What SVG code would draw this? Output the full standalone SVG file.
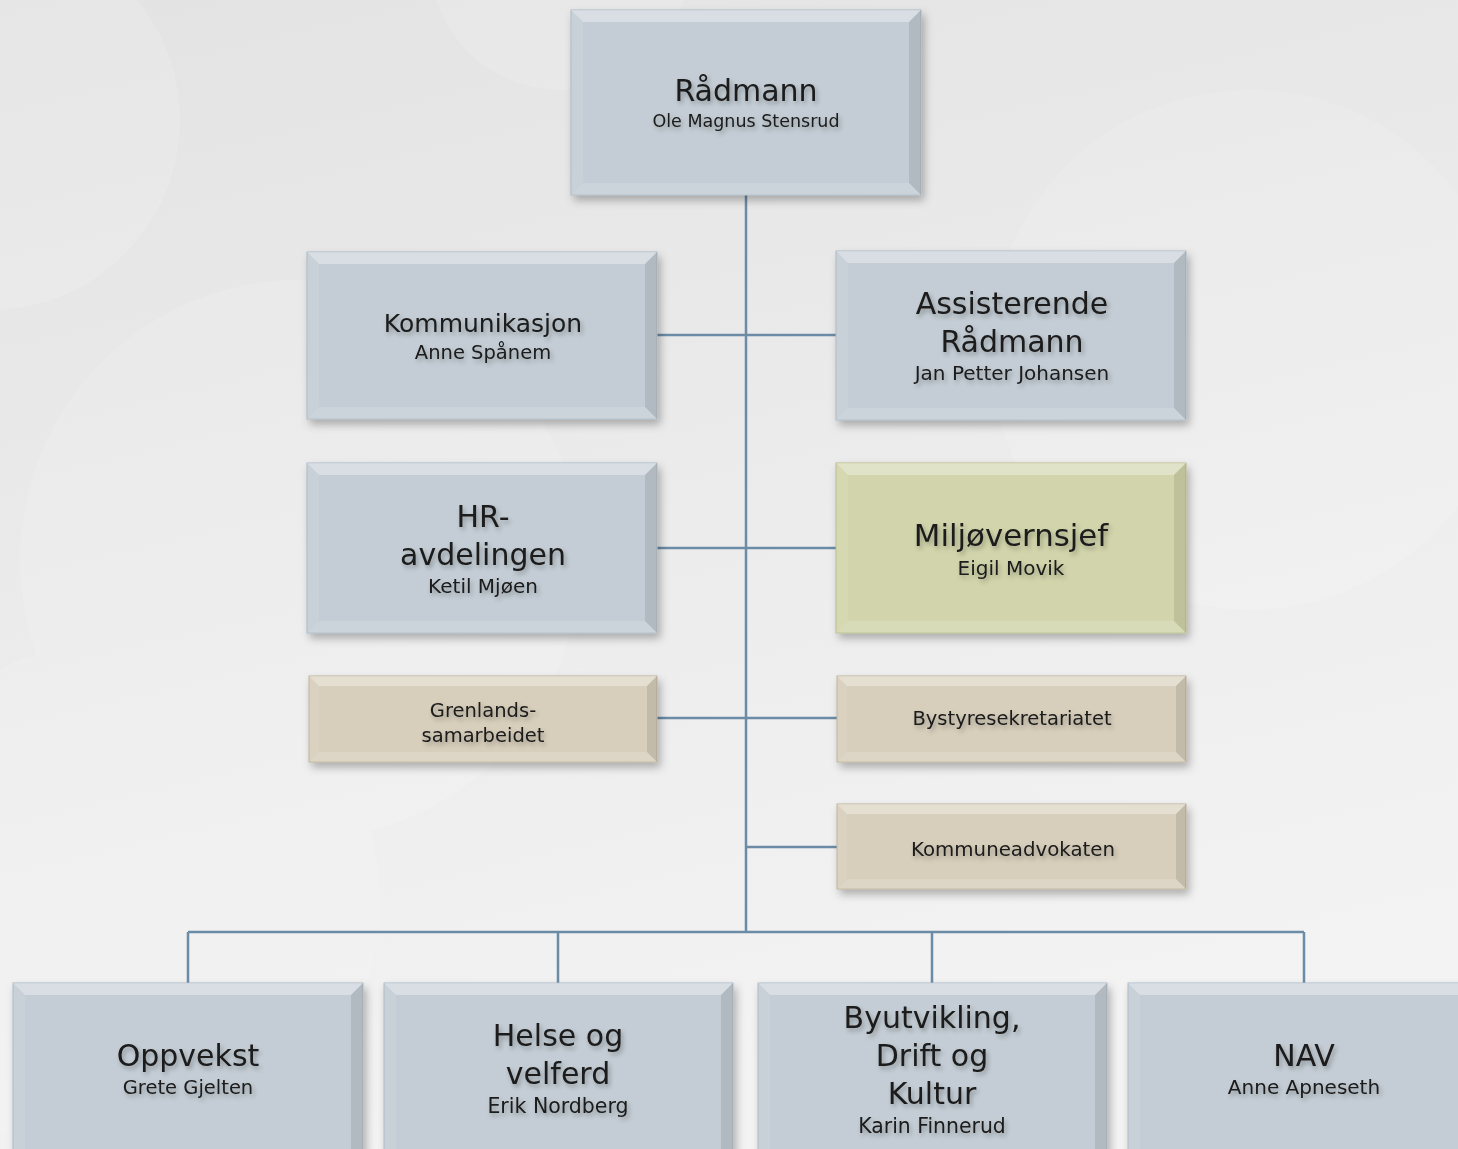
<svg xmlns="http://www.w3.org/2000/svg" width="1458" height="1149" viewBox="0 0 1458 1149">
<defs>
<linearGradient id="bg" x1="0" y1="0" x2="0.3" y2="1">
<stop offset="0" stop-color="#e3e3e3"/>
<stop offset="1" stop-color="#f3f3f3"/>
</linearGradient>
<filter id="sh" x="-10%" y="-10%" width="125%" height="130%">
<feDropShadow dx="3" dy="5" stdDeviation="4" flood-color="#000" flood-opacity="0.28"/>
</filter>
<filter id="ts" x="-10%" y="-30%" width="120%" height="170%">
<feGaussianBlur in="SourceAlpha" stdDeviation="2.5" result="b"/>
<feOffset dx="2" dy="3" result="o"/>
<feComponentTransfer in="o" result="s"><feFuncA type="linear" slope="0.3"/></feComponentTransfer>
<feMerge><feMergeNode in="s"/><feMergeNode in="SourceGraphic"/></feMerge>
</filter>
</defs>
<style>
.blue{fill:#c4cdd5;stroke:#aab7c3;stroke-width:1}
.green{fill:#d2d5ab;stroke:#b7bb88;stroke-width:1}
.tan{fill:#d7cebb;stroke:#bcb198;stroke-width:1}
.bt{fill:#ffffff;opacity:0.35}
.bl{fill:#ffffff;opacity:0.08}
.br{fill:#000000;opacity:0.09}
.bb{fill:#ffffff;opacity:0.15}
text{font-family:"DejaVu Sans","Liberation Sans",sans-serif;fill:#1a1a1a;text-anchor:middle;filter:url(#ts)}
.t{font-size:30px}
.tm{font-size:25px}
.s{font-size:20px}
.ss{font-size:17.5px}
.c{stroke:#6b8ba6;stroke-width:2.5;fill:none}
</style>
<rect width="1458" height="1149" fill="url(#bg)"/>
<g fill="#ffffff" opacity="0.12">
<circle cx="-10" cy="120" r="190"/>
<circle cx="560" cy="-40" r="130"/>
<circle cx="1250" cy="350" r="260"/>
<circle cx="300" cy="560" r="280"/>
<circle cx="120" cy="900" r="260"/>
</g>

<g id="connectors">
<line class="c" x1="746" y1="195" x2="746" y2="932"/>
<line class="c" x1="657" y1="335" x2="836" y2="335"/>
<line class="c" x1="657" y1="548" x2="836" y2="548"/>
<line class="c" x1="657" y1="718" x2="837" y2="718"/>
<line class="c" x1="746" y1="847" x2="837" y2="847"/>
<line class="c" x1="188" y1="932" x2="1304" y2="932"/>
<line class="c" x1="188" y1="932" x2="188" y2="983"/>
<line class="c" x1="558" y1="932" x2="558" y2="983"/>
<line class="c" x1="932" y1="932" x2="932" y2="983"/>
<line class="c" x1="1304" y1="932" x2="1304" y2="983"/>
</g>

<g id="radmann" transform="translate(571,10)">
<rect class="blue" width="350" height="185" filter="url(#sh)"/>
<polygon class="bt" points="0,0 350,0 338,12 12,12"/>
<polygon class="bl" points="0,0 12,12 12,173 0,185"/>
<polygon class="br" points="350,0 350,185 338,173 338,12"/>
<polygon class="bb" points="0,185 12,173 338,173 350,185"/>
<text class="t" x="175" y="91">Rådmann</text>
<text class="ss" x="175" y="117">Ole Magnus Stensrud</text>
</g>

<g id="kommunikasjon" transform="translate(307,252)">
<rect class="blue" width="350" height="167" filter="url(#sh)"/>
<polygon class="bt" points="0,0 350,0 338,12 12,12"/>
<polygon class="bl" points="0,0 12,12 12,155 0,167"/>
<polygon class="br" points="350,0 350,167 338,155 338,12"/>
<polygon class="bb" points="0,167 12,155 338,155 350,167"/>
<text class="tm" x="176" y="80">Kommunikasjon</text>
<text class="s" x="176" y="107" style="font-size:19.5px">Anne Spånem</text>
</g>

<g id="assisterende" transform="translate(836,251)">
<rect class="blue" width="350" height="169" filter="url(#sh)"/>
<polygon class="bt" points="0,0 350,0 338,12 12,12"/>
<polygon class="bl" points="0,0 12,12 12,157 0,169"/>
<polygon class="br" points="350,0 350,169 338,157 338,12"/>
<polygon class="bb" points="0,169 12,157 338,157 350,169"/>
<text class="t" x="176" y="63">Assisterende</text>
<text class="t" x="176" y="101">Rådmann</text>
<text class="s" x="176" y="129">Jan Petter Johansen</text>
</g>

<g id="hr" transform="translate(307,463)">
<rect class="blue" width="350" height="170" filter="url(#sh)"/>
<polygon class="bt" points="0,0 350,0 338,12 12,12"/>
<polygon class="bl" points="0,0 12,12 12,158 0,170"/>
<polygon class="br" points="350,0 350,170 338,158 338,12"/>
<polygon class="bb" points="0,170 12,158 338,158 350,170"/>
<text class="t" x="176" y="64">HR-</text>
<text class="t" x="176" y="102">avdelingen</text>
<text class="s" x="176" y="130">Ketil Mjøen</text>
</g>

<g id="miljovernsjef" transform="translate(836,463)">
<rect class="green" width="350" height="170" filter="url(#sh)"/>
<polygon class="bt" points="0,0 350,0 338,12 12,12"/>
<polygon class="bl" points="0,0 12,12 12,158 0,170"/>
<polygon class="br" points="350,0 350,170 338,158 338,12"/>
<polygon class="bb" points="0,170 12,158 338,158 350,170"/>
<text class="t" x="175" y="83" style="font-size:30.8px">Miljøvernsjef</text>
<text class="s" x="175" y="112">Eigil Movik</text>
</g>

<g id="grenlands" transform="translate(309,676)">
<rect class="tan" width="348" height="86" filter="url(#sh)"/>
<polygon class="bt" points="0,0 348,0 338,10 10,10"/>
<polygon class="bl" points="0,0 10,10 10,76 0,86"/>
<polygon class="br" points="348,0 348,86 338,76 338,10"/>
<polygon class="bb" points="0,86 10,76 338,76 348,86"/>
<text class="s" x="174" y="41" style="font-size:19.5px">Grenlands-</text>
<text class="s" x="174" y="66" style="font-size:19.5px">samarbeidet</text>
</g>

<g id="bystyresekretariatet" transform="translate(837,676)">
<rect class="tan" width="349" height="86" filter="url(#sh)"/>
<polygon class="bt" points="0,0 349,0 339,10 10,10"/>
<polygon class="bl" points="0,0 10,10 10,76 0,86"/>
<polygon class="br" points="349,0 349,86 339,76 339,10"/>
<polygon class="bb" points="0,86 10,76 339,76 349,86"/>
<text class="s" x="175" y="49" style="font-size:19.5px">Bystyresekretariatet</text>
</g>

<g id="kommuneadvokaten" transform="translate(837,804)">
<rect class="tan" width="349" height="85" filter="url(#sh)"/>
<polygon class="bt" points="0,0 349,0 339,10 10,10"/>
<polygon class="bl" points="0,0 10,10 10,75 0,85"/>
<polygon class="br" points="349,0 349,85 339,75 339,10"/>
<polygon class="bb" points="0,85 10,75 339,75 349,85"/>
<text class="s" x="176" y="52" style="font-size:19.8px">Kommuneadvokaten</text>
</g>

<g id="oppvekst" transform="translate(13,983)">
<rect class="blue" width="350" height="185" filter="url(#sh)"/>
<polygon class="bt" points="0,0 350,0 338,12 12,12"/>
<polygon class="bl" points="0,0 12,12 12,173 0,185"/>
<polygon class="br" points="350,0 350,185 338,173 338,12"/>
<text class="t" x="175" y="83">Oppvekst</text>
<text class="s" x="175" y="111" style="font-size:19.5px">Grete Gjelten</text>
</g>

<g id="helse" transform="translate(384,983)">
<rect class="blue" width="349" height="185" filter="url(#sh)"/>
<polygon class="bt" points="0,0 349,0 337,12 12,12"/>
<polygon class="bl" points="0,0 12,12 12,173 0,185"/>
<polygon class="br" points="349,0 349,185 337,173 337,12"/>
<text class="t" x="174" y="63">Helse og</text>
<text class="t" x="174" y="101">velferd</text>
<text class="s" x="174" y="130" style="font-size:20.5px">Erik Nordberg</text>
</g>

<g id="byutvikling" transform="translate(758,983)">
<rect class="blue" width="349" height="185" filter="url(#sh)"/>
<polygon class="bt" points="0,0 349,0 337,12 12,12"/>
<polygon class="bl" points="0,0 12,12 12,173 0,185"/>
<polygon class="br" points="349,0 349,185 337,173 337,12"/>
<text class="t" x="174" y="45">Byutvikling,</text>
<text class="t" x="174" y="83">Drift og</text>
<text class="t" x="174" y="121">Kultur</text>
<text class="s" x="174" y="150" style="font-size:20.4px">Karin Finnerud</text>
</g>

<g id="nav" transform="translate(1128,983)">
<rect class="blue" width="350" height="185" filter="url(#sh)"/>
<polygon class="bt" points="0,0 350,0 338,12 12,12"/>
<polygon class="bl" points="0,0 12,12 12,173 0,185"/>
<text class="t" x="176" y="83">NAV</text>
<text class="s" x="176" y="111">Anne Apneseth</text>
</g>
</svg>
